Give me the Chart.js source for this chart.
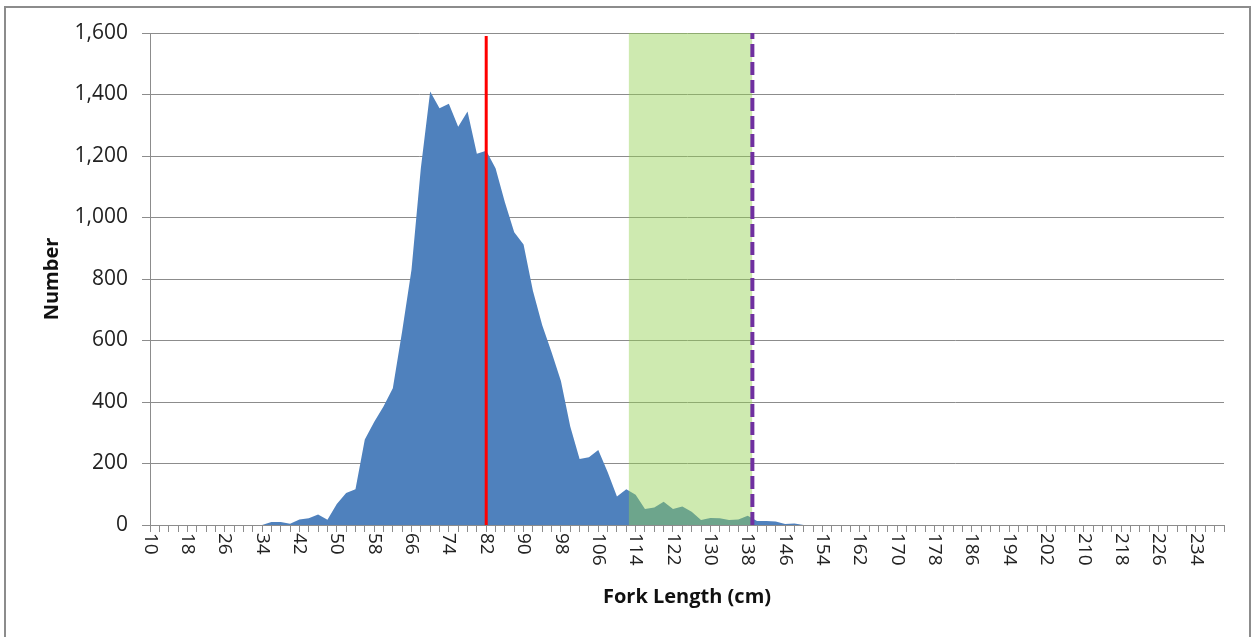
<!DOCTYPE html>
<html>
<head>
<meta charset="utf-8">
<script src="https://cdn.jsdelivr.net/npm/chart.js@4.4.1/dist/chart.umd.min.js"></script>
<style>
  html, body { margin: 0; padding: 0; background: #fff; overflow: hidden; }
  #frame { position: absolute; left: 4px; top: 6px; width: 1243px; height: 700px; border: 2px solid #8c8c8c; }
  #wrap { position: absolute; left: 0; top: 0; width: 1253px; height: 637px; }
</style>
</head>
<body>
<div id="frame"></div>
<div id="wrap"><canvas id="chart" width="1253" height="637"></canvas></div>
<script>
'use strict';

// fork length classes (cm)
const lengths = [
  10, 12, 14, 16, 18, 20, 22, 24, 26, 28, 30, 32, 34, 36, 38, 40, 42, 44, 46, 48,
  50, 52, 54, 56, 58, 60, 62, 64, 66, 68, 70, 72, 74, 76, 78, 80, 82, 84, 86, 88,
  90, 92, 94, 96, 98, 100, 102, 104, 106, 108, 110, 112, 114, 116, 118, 120, 122, 124, 126, 128,
  130, 132, 134, 136, 138, 140, 142, 144, 146, 148, 150, 152, 154, 156, 158, 160, 162, 164, 166, 168,
  170, 172, 174, 176, 178, 180, 182, 184, 186, 188, 190, 192, 194, 196, 198, 200, 202, 204, 206, 208,
  210, 212, 214, 216, 218, 220, 222, 224, 226, 228, 230, 232, 234, 236, 238, 240,
];

// number of fish per class
const counts = [
  0, 0, 0, 0, 0, 0, 0, 0, 0, 0, 0, 0, 0, 10, 10, 4, 18, 22, 34, 17,
  68, 104, 116, 278, 335, 385, 445, 630, 830, 1160, 1410, 1355, 1370, 1295, 1345, 1207, 1217, 1160, 1050, 952,
  912, 762, 650, 562, 468, 320, 215, 220, 244, 172, 93, 116, 98, 52, 57, 76, 52, 60, 43, 16,
  23, 22, 16, 18, 30, 13, 13, 11, 3, 5, 0, 0, 0, 0, 0, 0, 0, 0, 0, 0,
  0, 0, 0, 0, 0, 0, 0, 0, 0, 0, 0, 0, 0, 0, 0, 0, 0, 0, 0, 0,
  0, 0, 0, 0, 0, 0, 0, 0, 0, 0, 0, 0, 0, 0, 0, 0,
];

const meanLength = 82;
const meanTop = 1590;
const bandRange = [112.5, 139];
const limitLength = 139;
const yMax = 1600;
const yStep = 200;

Chart.defaults.font.family = '"Open Sans", sans-serif';
Chart.defaults.color = '#222';

// Excel style labels: rotated 90deg clockwise, read top to bottom
const rotatedXLabels = {
  id: 'rotatedXLabels',
  afterDraw(chart) {
    const scale = chart.scales.x;
    const ctx = chart.ctx;
    ctx.save();
    ctx.font = '19px "Open Sans"';
    ctx.fillStyle = '#222';
    ctx.textAlign = 'left';
    ctx.textBaseline = 'middle';
    scale.ticks.forEach(t => {
      if (!t.label) return;
      const x = scale.getPixelForValue(t.value);
      ctx.save();
      ctx.translate(x, scale.top + 8);
      ctx.rotate(Math.PI / 2);
      ctx.fillText(t.label, 0, 0);
      ctx.restore();
    });
    ctx.restore();
  }
};

const areaData = lengths.map((l, i) => ({ x: l, y: counts[i] }));

new Chart(document.getElementById('chart'), {
  type: 'line',
  data: {
    datasets: [
      {
        label: 'limit',
        data: [{ x: limitLength, y: 0 }, { x: limitLength, y: yMax }],
        borderColor: '#7030a0',
        borderWidth: 4,
        borderDash: [13, 5],
        pointRadius: 0,
        fill: false,
      },
      {
        label: 'mean',
        data: [{ x: meanLength, y: 0 }, { x: meanLength, y: meanTop }],
        borderColor: '#ff0000',
        borderWidth: 3,
        pointRadius: 0,
        fill: false,
      },
      {
        label: 'band',
        data: [{ x: bandRange[0], y: yMax }, { x: bandRange[1], y: yMax }],
        borderWidth: 0,
        borderColor: 'rgba(0,0,0,0)',
        backgroundColor: 'rgba(146,208,80,0.45)',
        pointRadius: 0,
        fill: 'origin',
      },
      {
        label: 'Number',
        data: areaData,
        borderWidth: 0,
        borderColor: 'rgba(0,0,0,0)',
        backgroundColor: '#4f81bd',
        pointRadius: 0,
        tension: 0,
        fill: 'origin',
      },
    ],
  },
  options: {
    responsive: false,
    animation: false,
    devicePixelRatio: 1,
    locale: 'en-US',
    layout: { padding: { left: 0, right: 29, top: 33, bottom: 0 } },
    plugins: { legend: { display: false }, tooltip: { enabled: false } },
    scales: {
      x: {
        type: 'linear',
        min: lengths[0],
        max: lengths[lengths.length - 1],
        afterBuildTicks: axis => { axis.ticks = lengths.map(v => ({ value: v })); },
        afterFit: axis => { axis.height = 112; },
        ticks: {
          display: false,
          callback: v => ((v - lengths[0]) % 8 === 0 ? String(v) : ''),
        },
        grid: { drawOnChartArea: false, drawTicks: true, tickLength: 7, color: '#8c8c8c' },
        border: { display: true, color: '#8c8c8c' },
        title: {
          display: true,
          text: 'Fork Length (cm)',
          font: { size: 20, weight: 'bold' },
          color: '#111',
          padding: { top: 0, bottom: 28 },
        },
      },
      y: {
        min: 0,
        max: yMax,
        afterFit: axis => { axis.width = 150; },
        ticks: {
          stepSize: yStep,
          padding: 14,
          font: { size: 21 },
          callback: v => v.toLocaleString('en-US'),
        },
        grid: { color: '#8c8c8c', tickLength: 8 },
        border: { display: true, color: '#8c8c8c' },
        title: {
          display: true,
          text: 'Number',
          font: { size: 20, weight: 'bold' },
          color: '#111',
          padding: { top: 40, bottom: 0 },
        },
      },
    },
  },
  plugins: [rotatedXLabels],
});
</script>
</body>
</html>
